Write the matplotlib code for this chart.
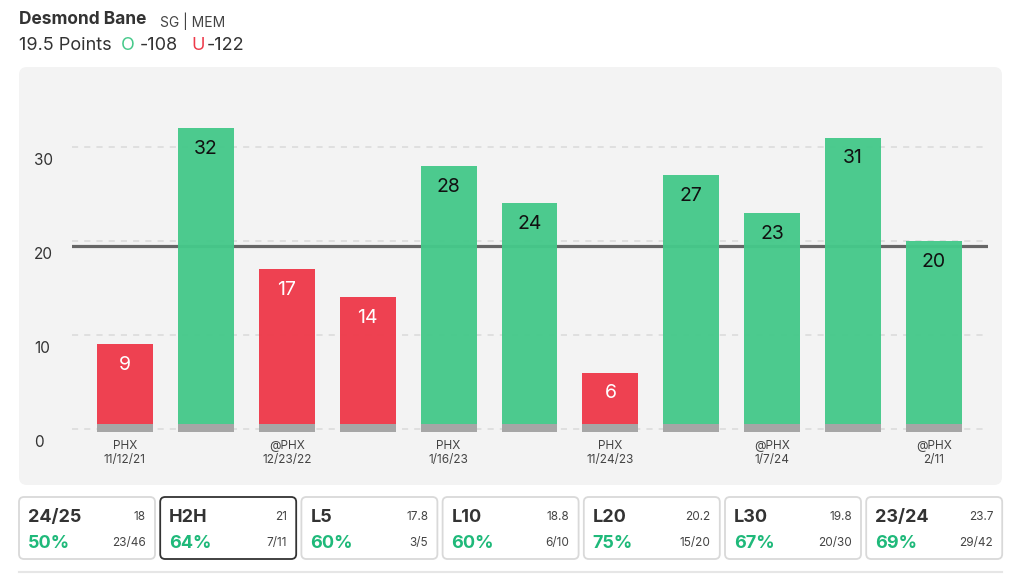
import numpy as np
import matplotlib
matplotlib.use("Agg")
import matplotlib.pyplot as plt
from matplotlib.patches import FancyBboxPatch
from matplotlib.transforms import ScaledTranslation

plt.rcParams['font.family'] = ['Inter', 'DejaVu Sans']

# header info
player = "Desmond Bane"
player_meta = "SG | MEM"
prop_line = 19.5
over_odds = "-108"
under_odds = "-122"

# game by game points (oldest -> newest)
points = [9, 32, 17, 14, 28, 24, 6, 27, 23, 31, 20]
tick_idx = [0, 2, 4, 6, 8, 10]
tick_labels = ["PHX\n11/12/21", "@PHX\n12/23/22", "PHX\n1/16/23",
               "PHX\n11/24/23", "@PHX\n1/7/24", "@PHX\n2/11"]
y_ticks = [0, 10, 20, 30]

# summary boxes underneath
box_names = ["24/25", "H2H", "L5", "L10", "L20", "L30", "23/24"]
box_avg = ["18", "21", "17.8", "18.8", "20.2", "19.8", "23.7"]
box_pct = ["50%", "64%", "60%", "60%", "75%", "67%", "69%"]
box_frac = ["23/46", "7/11", "3/5", "6/10", "15/20", "20/30", "29/42"]
selected_box = 1

GREEN = "#45c98a"
RED = "#ee3a4a"
PCT_GREEN = "#1fb97a"
W, H = 1024, 585

fig = plt.figure(figsize=(W / 100, H / 100), dpi=100)

# background layer in pixel coords (y down)
bg = fig.add_axes([0, 0, 1, 1])
bg.set_xlim(0, W)
bg.set_ylim(H, 0)
bg.axis("off")
bg.set_zorder(0)

bg.text(19, 20, player, fontsize=12.5, fontweight="bold", color="#333333", va="center", ha="left")
bg.text(160, 21, player_meta, fontsize=10, color="#444444", va="center", ha="left")
bg.text(19, 46, f"{prop_line} Points", fontsize=13, color="#333333", va="center", ha="left")
bg.text(121, 46, "O", fontsize=13, color=GREEN, va="center", ha="left")
bg.text(140, 46, over_odds, fontsize=13, color="#333333", va="center", ha="left")
bg.text(191, 46, "U", fontsize=13, color=RED, va="center", ha="left")
bg.text(207, 46, under_odds, fontsize=13, color="#333333", va="center", ha="left")

panel = FancyBboxPatch((19, 67), 983, 418, boxstyle="round,pad=0,rounding_size=8",
                       fc="#f3f3f3", ec="none")
bg.add_patch(panel)

# summary boxes
bx0, bstep, bw, by, bh = 19, 141.2, 136, 497, 62
for i in range(len(box_names)):
    x0 = bx0 + i * bstep
    ec = "#333333" if i == selected_box else "#d9d9d9"
    bg.add_patch(FancyBboxPatch((x0, by), bw, bh, boxstyle="round,pad=0,rounding_size=5",
                                fc="white", ec=ec, lw=1.3))
    bg.text(x0 + 9, 517, box_names[i], fontsize=13, fontweight="bold", color="#333333",
            va="center", ha="left")
    bg.text(x0 + bw - 9, 517, box_avg[i], fontsize=8.5, color="#444444", va="center", ha="right")
    bg.text(x0 + 9, 543, box_pct[i], fontsize=13, fontweight="bold", color=PCT_GREEN,
            va="center", ha="left")
    bg.text(x0 + bw - 9, 543, box_frac[i], fontsize=8.5, color="#444444", va="center", ha="right")

bg.plot([19, 1002], [572, 572], color="#e6e6e6", lw=1.5)

# main chart axes: left 72px, right 988px, zero line at 429px, 9.4 px per point
ax_left, ax_right, ax_top, ax_bot = 72, 988, 70, 434
ax = fig.add_axes([ax_left / W, 1 - ax_bot / H, (ax_right - ax_left) / W, (ax_bot - ax_top) / H])
ax.set_zorder(1)
ax.patch.set_visible(False)
ppu = 9.4
zero_px = 429
ax.set_ylim((zero_px - ax_bot) / ppu, (zero_px - ax_top) / ppu)
step = 80.9
ax.set_xlim(-(125 - ax_left) / step, (ax_right - 125) / step)

x = np.arange(len(points))
vals = np.array(points)
colors = [GREEN if v > prop_line else RED for v in vals]

ax.set_yticks(y_ticks)
ax.grid(axis="y", color="#d9d9d9", linestyle=(0, (4, 4)), lw=1.1, zorder=1)
ax.axhline(prop_line, color="#666666", lw=2.3, zorder=2)

ax.bar(x, vals - 0.55, bottom=0.55, width=0.69, color=colors, alpha=0.96, zorder=3)
ax.bar(x, 0.85, bottom=-0.3, width=0.69, color="#a6a6a6", zorder=3)

for xi, v, c in zip(x, vals, colors):
    ax.text(xi, v - 2.0, str(v), ha="center", va="center_baseline", fontsize=14,
            color="#111111" if c == GREEN else "white", zorder=4)

for s in ax.spines.values():
    s.set_visible(False)

ax.set_xticks(tick_idx)
ax.set_xticklabels(tick_labels, fontsize=8.5, color="#444444", linespacing=1.3)
ax.tick_params(axis="x", length=0, pad=4)
ax.tick_params(axis="y", length=0, pad=0, labelsize=11, labelcolor="#333333")
shift = ScaledTranslation(-38 / 100, -12 / 100, fig.dpi_scale_trans)
for lab in ax.get_yticklabels():
    lab.set_horizontalalignment("left")
    lab.set_transform(lab.get_transform() + shift)

fig.savefig("out.png", dpi=100)
